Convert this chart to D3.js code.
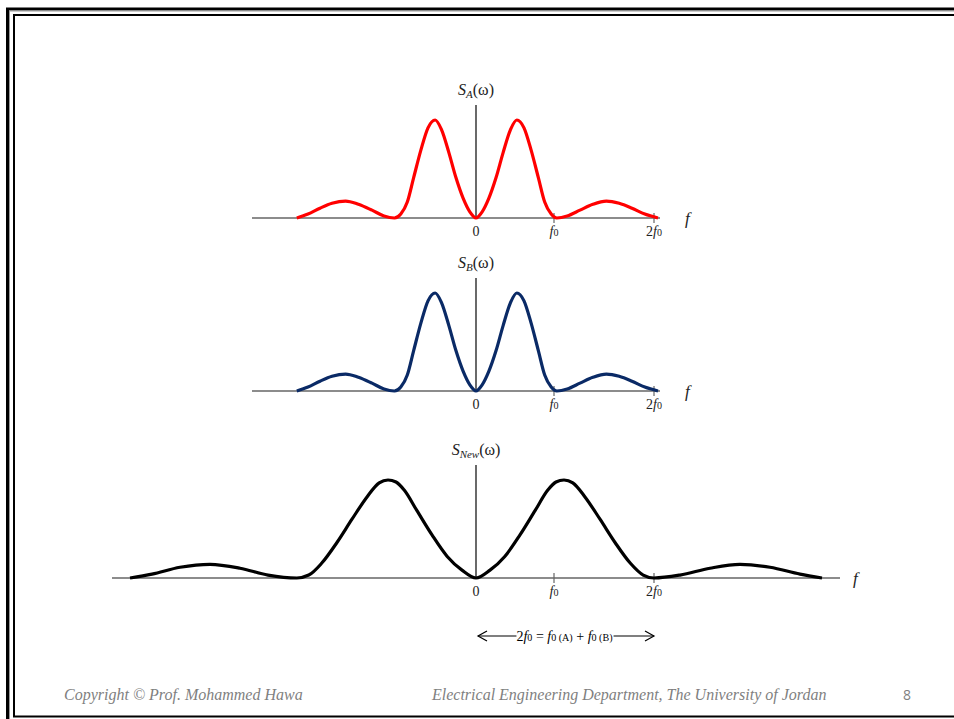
<!DOCTYPE html>
<html>
<head>
<meta charset="utf-8">
<script src="https://d3js.org/d3.v7.min.js"></script>
<style>
  body { margin: 0; background: #fff; }
  text { font-family: "Liberation Serif", "DejaVu Serif", serif; }
</style>
</head>
<body>
<div id="slide"></div>
<script>
// spectrum of the A and B pulses (frequency in units of f0, amplitude normalised)
var freqA = [-2.24, -2.1, -1.95, -1.8, -1.63, -1.47, -1.3, -1.15, -1.02, -0.94, -0.86, -0.78, -0.69, -0.6, -0.51, -0.43, -0.34, -0.25, -0.16, -0.075, 0,
             0.075, 0.16, 0.25, 0.34, 0.43, 0.51, 0.6, 0.69, 0.78, 0.86, 0.94, 1.01, 1.14, 1.3, 1.46, 1.63, 1.79, 1.95, 2.11, 2.275];
var ampA  = [0, 0.04, 0.1, 0.15, 0.173, 0.14, 0.08, 0.02, 0, 0.04, 0.16, 0.41, 0.69, 0.92, 1.0, 0.9, 0.67, 0.41, 0.2, 0.06, 0,
             0.06, 0.2, 0.41, 0.67, 0.9, 1.0, 0.92, 0.69, 0.41, 0.16, 0.04, 0, 0.02, 0.08, 0.14, 0.173, 0.15, 0.1, 0.04, 0];
var freqB = freqA.slice();
var ampB  = ampA.slice();

// spectrum of the new (combined) signal
var freqNew = [-4.325, -4.05, -3.7, -3.325, -2.95, -2.6, -2.24, -2.09, -1.93, -1.74, -1.55, -1.36, -1.21, -1.1, -1.0, -0.9, -0.74, -0.55, -0.36, -0.175, 0,
               0.175, 0.36, 0.55, 0.74, 0.9, 1.0, 1.1, 1.21, 1.36, 1.55, 1.74, 1.93, 2.09, 2.225, 2.55, 2.925, 3.3, 3.675, 4.05, 4.325];
var ampNew  = [0, 0.04, 0.11, 0.14, 0.1, 0.03, 0, 0.03, 0.15, 0.36, 0.6, 0.83, 0.97, 1.0, 0.98, 0.9, 0.69, 0.44, 0.22, 0.08, 0,
               0.08, 0.22, 0.44, 0.69, 0.9, 0.98, 1.0, 0.97, 0.83, 0.6, 0.36, 0.15, 0.03, 0, 0.03, 0.1, 0.14, 0.11, 0.04, 0];

// tick positions as drawn on the original slide (units of f0)
var tickPos   = [0, 0.975, 2.225];
var tickPre   = ["0", "", "2"];
var tickF     = [false, true, true];

var W = 954, H = 719;
var svg = d3.select("#slide").append("svg")
    .attr("width", W).attr("height", H);

// slide frame
svg.append("path").attr("d", "M954,9H7.5V719")
    .attr("fill", "none").attr("stroke", "#000").attr("stroke-width", 3);
svg.append("path").attr("d", "M954,15H14V716.5H954")
    .attr("fill", "none").attr("stroke", "#000").attr("stroke-width", 2);
svg.append("path").attr("d", "M954,11H9.5V719")
    .attr("fill", "none").attr("stroke", "#999").attr("stroke-width", 1);

var x = d3.scaleLinear().domain([0, 1]).range([476, 556]);
var y = d3.scaleLinear().domain([0, 1]).range([0, -98]);

var panels = [
  {sub: "A", freq: freqA, amp: ampA, color: "#ff0000", base: 218, top: 105, ext: [-2.8, 2.3], fx: 685},
  {sub: "B", freq: freqB, amp: ampB, color: "#0a2a66", base: 391, top: 278, ext: [-2.8, 2.3], fx: 685},
  {sub: "New", freq: freqNew, amp: ampNew, color: "#000000", base: 578, top: 465, ext: [-4.55, 4.55], fx: 853}
];

function fLabel(t, pre) {
  if (pre) t.append("tspan").text(pre);
  t.append("tspan").style("font-style", "italic").text("f");
  t.append("tspan").style("font-size", "0.72em").text("0");
}

panels.forEach(function(p) {
  var g = svg.append("g").attr("transform", "translate(0," + p.base + ")");

  // baseline
  g.append("line")
    .attr("x1", x(p.ext[0])).attr("x2", x(p.ext[1]))
    .attr("y1", 0).attr("y2", 0)
    .attr("stroke", "#666").attr("stroke-width", 1.4);

  // vertical axis
  g.append("line")
    .attr("x1", x(0)).attr("x2", x(0))
    .attr("y1", p.top - p.base).attr("y2", 0)
    .attr("stroke", "#444").attr("stroke-width", 1.6);

  // ticks
  g.selectAll(".tk").data(tickPos.slice(1)).enter().append("line")
    .attr("x1", function(d) { return x(d); }).attr("x2", function(d) { return x(d); })
    .attr("y1", -5).attr("y2", 5)
    .attr("stroke", "#666").attr("stroke-width", 1.2);

  tickPos.forEach(function(d, i) {
    var t = g.append("text")
      .attr("x", x(d)).attr("y", 18)
      .attr("text-anchor", "middle")
      .style("font-size", "14px").attr("fill", "#222");
    if (tickF[i]) fLabel(t, tickPre[i]); else t.text(tickPre[i]);
  });

  // f axis label
  g.append("text").attr("x", p.fx).attr("y", 6)
    .style("font-size", "17px").style("font-style", "italic").attr("fill", "#222")
    .text("f");

  // S(ω) label
  var lab = g.append("text")
    .attr("x", x(0)).attr("y", p.top - p.base - 10)
    .attr("text-anchor", "middle")
    .style("font-size", "16px").attr("fill", "#222");
  lab.append("tspan").style("font-style", "italic").text("S");
  lab.append("tspan").style("font-style", "italic").style("font-size", "11px").attr("dy", 3).text(p.sub);
  lab.append("tspan").attr("dy", -3).text("(ω)");

  // spectrum curve
  var pts = p.freq.map(function(f, i) { return [f, p.amp[i]]; });
  g.append("path")
    .datum(pts)
    .attr("fill", "none")
    .attr("stroke", p.color)
    .attr("stroke-width", 3.2)
    .attr("stroke-linejoin", "round")
    .attr("d", d3.line()
      .x(function(d) { return x(d[0]); })
      .y(function(d) { return y(d[1]); })
      .curve(d3.curveMonotoneX));
});

// bandwidth annotation
var ay = 636;
var ga = svg.append("g");
var x0 = x(tickPos[0]) + 2, x2 = x(tickPos[2]);
var at = ga.append("text").attr("x", 564.5).attr("y", ay + 5)
  .attr("text-anchor", "middle").style("font-size", "14px").attr("fill", "#000");
fLabel(at, "2");
at.append("tspan").text(" = ");
fLabel(at, "");
at.append("tspan").style("font-size", "0.72em").text(" (A)");
at.append("tspan").text(" + ");
fLabel(at, "");
at.append("tspan").style("font-size", "0.72em").text(" (B)");
var bb = at.node().getBBox();
ga.append("line").attr("x1", x0).attr("x2", bb.x).attr("y1", ay).attr("y2", ay)
  .attr("stroke", "#000").attr("stroke-width", 1.2);
ga.append("line").attr("x1", bb.x + bb.width + 1).attr("x2", x2).attr("y1", ay).attr("y2", ay)
  .attr("stroke", "#000").attr("stroke-width", 1.2);
ga.append("path").attr("d", "M" + (x0 + 9) + "," + (ay - 5) + "L" + x0 + "," + ay + "L" + (x0 + 9) + "," + (ay + 5))
  .attr("fill", "none").attr("stroke", "#000").attr("stroke-width", 1.2);
ga.append("path").attr("d", "M" + (x2 - 9) + "," + (ay - 5) + "L" + x2 + "," + ay + "L" + (x2 - 9) + "," + (ay + 5))
  .attr("fill", "none").attr("stroke", "#000").attr("stroke-width", 1.2);

// footer
svg.append("text").attr("x", 64).attr("y", 700)
  .style("font-size", "16px").style("font-style", "italic").attr("fill", "#7f7f7f")
  .text("Copyright © Prof. Mohammed Hawa");
svg.append("text").attr("x", 432).attr("y", 700)
  .style("font-size", "16px").style("font-style", "italic").attr("fill", "#7f7f7f")
  .text("Electrical Engineering Department, The University of Jordan");
svg.append("text").attr("x", 903).attr("y", 700)
  .style("font-family", "'Open Sans', sans-serif")
  .style("font-size", "14px").attr("fill", "#7f7f7f")
  .text("8");
</script>
</body>
</html>
